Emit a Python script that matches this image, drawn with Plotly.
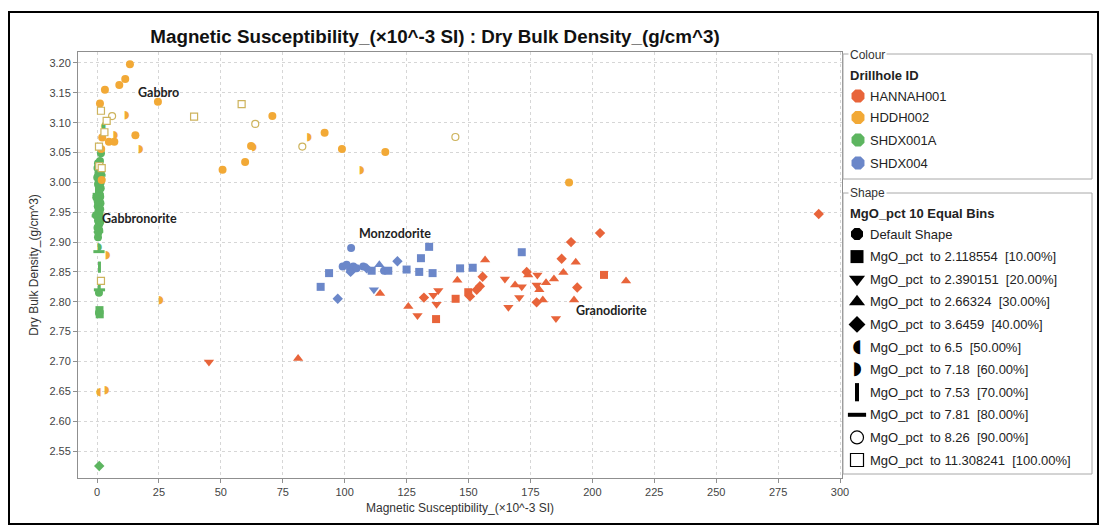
import plotly.graph_objects as go

# ---------------- data ----------------
holes = ["HANNAH001", "HDDH002", "SHDX001A", "SHDX004"]

bin_labels = [
    "Default Shape",
    "MgO_pct\u00a0 to 2.118554\u00a0 [10.00%]",
    "MgO_pct\u00a0 to 2.390151\u00a0 [20.00%]",
    "MgO_pct\u00a0 to 2.66324\u00a0 [30.00%]",
    "MgO_pct\u00a0 to 3.6459\u00a0 [40.00%]",
    "MgO_pct\u00a0 to 6.5\u00a0 [50.00%]",
    "MgO_pct\u00a0 to 7.18\u00a0 [60.00%]",
    "MgO_pct\u00a0 to 7.53\u00a0 [70.00%]",
    "MgO_pct\u00a0 to 7.81\u00a0 [80.00%]",
    "MgO_pct\u00a0 to 8.26\u00a0 [90.00%]",
    "MgO_pct\u00a0 to 11.308241\u00a0 [100.00%]",
]

hannah_x = [45.2, 81.2, 114.3, 125.7, 129.4, 132.0, 135.8, 137.8, 137.1, 136.9,
            144.8, 145.5, 149.9, 150.6, 153.3, 154.6, 155.7, 156.7, 164.7, 166.1,
            168.8, 170.5, 171.5, 173.5, 174.1, 177.8, 177.5, 178.6, 180.0, 177.5,
            181.3, 184.5, 185.3, 187.6, 188.3, 191.4, 193.3, 192.6, 193.9, 203.1,
            204.7, 213.6, 291.4]
hannah_y = [2.699, 2.705, 2.814, 2.792, 2.777, 2.807, 2.811, 2.819, 2.796, 2.771,
            2.805, 2.836, 2.816, 2.809, 2.820, 2.826, 2.842, 2.870, 2.838, 2.791,
            2.828, 2.807, 2.825, 2.850, 2.845, 2.845, 2.828, 2.820, 2.803, 2.799,
            2.832, 2.838, 2.772, 2.872, 2.849, 2.900, 2.866, 2.803, 2.824, 2.915,
            2.845, 2.835, 2.947]
hannah_bin = [2, 3, 3, 3, 2, 4, 2, 2, 2, 1,
              1, 3, 1, 4, 4, 4, 4, 3, 2, 2,
              3, 2, 2, 4, 3, 2, 2, 3, 3, 4,
              3, 3, 2, 4, 3, 4, 3, 3, 4, 4,
              1, 3, 4]

hddh_x = [13.3, 11.4, 9.0, 3.2, 1.2, 1.6, 24.6, 39.2, 58.4, 63.9,
          6.1, 12.0, 3.9, 3.0, 2.1, 4.8, 7.0, 7.4, 15.5, 17.6,
          0.8, 1.7, 0.9, 1.9, 1.9, 50.7, 59.8, 62.2, 63.5, 70.8,
          82.9, 85.7, 91.9, 98.9, 106.9, 116.4, 144.7, 190.6, 4.3, 1.6,
          25.8, 0.7, 3.9]
hddh_y = [3.198, 3.173, 3.163, 3.155, 3.132, 3.120, 3.135, 3.110, 3.131, 3.098,
          3.111, 3.113, 3.103, 3.084, 3.075, 3.068, 3.068, 3.079, 3.079, 3.056,
          3.060, 3.056, 3.027, 3.024, 3.004, 3.021, 3.034, 3.061, 3.059, 3.111,
          3.060, 3.076, 3.083, 3.056, 3.021, 3.051, 3.076, 3.000, 2.878, 2.835,
          2.803, 2.648, 2.651]
hddh_bin = [0, 0, 0, 0, 0, 10, 0, 10, 10, 9,
            9, 6, 10, 10, 0, 0, 0, 6, 0, 6,
            10, 0, 10, 10, 0, 0, 0, 0, 6, 0,
            9, 6, 0, 0, 6, 0, 9, 0, 6, 10,
            6, 5, 6]

shdx1_x = [0.4, 1.0, 0.2, 1.4, 0.6, 1.2, 0.1, 0.8, 1.5, 0.5,
           1.1, 0.0, 0.9, 0.5, 1.3, 0.2, 1.0, 0.7, 0.3, 1.2,
           0.6, 1.0, 0.1, 0.8, 0.4, 1.1, 0.7, 0.2, 0.9, 0.5,
           1.0, 0.4, 1.6, 1.5, 1.7, -0.3, -0.4, 1.4, 2.6, 1.6,
           1.2, 0.6, 1.0, 0.8, 1.0, 0.9, 1.0, 0.8, 1.0, 0.8,
           1.1, 0.9, 0.5, 1.3, 1.4, -0.2, 0.3]
shdx1_y = [3.032, 3.028, 3.024, 3.020, 3.016, 3.012, 3.008, 3.004, 3.000, 2.996,
           2.992, 2.988, 2.984, 2.980, 2.976, 2.972, 2.968, 2.964, 2.960, 2.956,
           2.952, 2.948, 2.944, 2.940, 2.936, 2.932, 2.928, 2.924, 2.920, 2.916,
           2.912, 2.908, 3.015, 2.990, 3.005, 2.975, 2.945, 2.965, 3.094, 3.049,
           3.036, 2.917, 2.892, 2.884, 2.858, 2.828, 2.820, 2.815, 2.786, 2.781,
           2.779, 2.525, 2.998, 2.955, 2.935, 2.990, 2.968]
shdx1_bin = [0, 0, 0, 7, 0, 8, 0, 0, 0, 0,
             0, 7, 0, 8, 0, 0, 0, 0, 0, 7,
             0, 0, 8, 0, 0, 0, 0, 0, 0, 0,
             7, 0, 0, 0, 0, 0, 0, 0, 5, 0,
             0, 4, 6, 8, 7, 7, 8, 0, 1, 0,
             1, 4, 0, 0, 0, 7, 0]

shdx4_x = [102.6, 134.1, 130.8, 93.7, 90.3, 97.2, 99.2, 100.8, 102.2, 102.4,
           103.5, 104.8, 107.5, 108.9, 110.9, 114.0, 115.9, 117.6, 121.3, 125.0,
           130.1, 135.5, 146.6, 151.7, 171.5, 111.8]
shdx4_y = [2.890, 2.892, 2.873, 2.848, 2.825, 2.805, 2.859, 2.862, 2.854, 2.850,
           2.859, 2.856, 2.859, 2.856, 2.852, 2.862, 2.852, 2.852, 2.868, 2.854,
           2.850, 2.848, 2.856, 2.857, 2.883, 2.820]
shdx4_bin = [0, 1, 1, 1, 1, 4, 0, 0, 0, 4,
             0, 0, 0, 4, 1, 3, 0, 1, 4, 1,
             1, 1, 1, 1, 1, 2]

rock_labels = ["Gabbro", "Gabbronorite", "Monzodorite", "Granodiorite"]
rock_x = [15.7, 1.2, 105.0, 192.6]
rock_y = [3.150, 2.940, 2.915, 2.785]

x_ticks = [0, 25, 50, 75, 100, 125, 150, 175, 200, 225, 250, 275, 300]
y_ticks = [2.55, 2.60, 2.65, 2.70, 2.75, 2.80, 2.85, 2.90, 2.95, 3.00, 3.05, 3.10, 3.15, 3.20]

# ---------------- styles ----------------
hole_colors = ["#E8643A", "#F2A936", "#5DB560", "#6B87C9"]
open_outline = ["#E8643A", "#CDB35C", "#5DB560", "#6B87C9"]
W, H = 1104, 525
L, R, T, B = 78, 842, 52, 478
x_range = [-7.67, 300.8]
y_range = [2.5048, 3.2184]

FONT = "Liberation Sans, Arial, sans-serif"
NARROW = "Liberation Sans Narrow, Arial Narrow, Liberation Sans, Arial, sans-serif"
GLYPH_FONT = "DejaVu Sans"

fig = go.Figure()


def add_points(xs, ys, color, ocolor, bin_id, xref="x", yref="y", size=8, legend=False):
    if not xs:
        return
    common = dict(x=xs, y=ys, xaxis=xref, yaxis=yref, showlegend=False, hoverinfo="skip",
                  cliponaxis=False)
    if bin_id in (5, 6):
        glyph = "\u25D6" if bin_id == 5 else "\u25D7"
        fig.add_trace(go.Scatter(mode="text", text=[glyph] * len(xs),
                                 textposition="middle center",
                                 textfont=dict(color=color, size=int(size * 1.45), family=GLYPH_FONT),
                                 **common))
        return
    sym = ["circle", "square", "triangle-down", "triangle-up", "diamond", None, None,
           "line-ns", "line-ew", "circle", "square"][bin_id]
    if legend and bin_id == 0:
        sym = "octagon"
    if bin_id in (7, 8):
        marker = dict(symbol=sym, size=size, color=color,
                      line=dict(width=3 if not legend else 4, color=color))
    elif bin_id in (9, 10):
        marker = dict(symbol=sym, size=size - (0 if legend else 1), color="white",
                      line=dict(width=1.2, color=ocolor))
    else:
        s = size
        if bin_id in (2, 3):
            s = size + 1
        marker = dict(symbol=sym, size=s, color=color, line=dict(width=0))
    fig.add_trace(go.Scatter(mode="markers", marker=marker, **common))


series = [
    (hannah_x, hannah_y, hannah_bin),
    (hddh_x, hddh_y, hddh_bin),
    (shdx1_x, shdx1_y, shdx1_bin),
    (shdx4_x, shdx4_y, shdx4_bin),
]

# draw order: green first (dense column), then others
for hi in [2, 1, 3, 0]:
    xs_all, ys_all, bins_all = series[hi]
    for b in range(11):
        xs = [x for x, bb in zip(xs_all, bins_all) if bb == b]
        ys = [y for y, bb in zip(ys_all, bins_all) if bb == b]
        add_points(xs, ys, hole_colors[hi], open_outline[hi], b)

# ---------------- legend (custom, pixel coords on x2/y2) ----------------
colour_rows = [96, 117.5, 140, 163]
shape_rows = [234, 256.6, 279.2, 301.8, 324.4, 347, 369.6, 392.2, 414.8, 437.4, 460]

for i, hname in enumerate(holes):
    fig.add_trace(go.Scatter(x=[858], y=[colour_rows[i]], xaxis="x2", yaxis="y2", mode="markers",
                             marker=dict(symbol="octagon", size=14, color=hole_colors[i], line=dict(width=0)),
                             showlegend=False, hoverinfo="skip"))
for b in range(11):
    add_points([857], [shape_rows[b]], "black", "black", b, xref="x2", yref="y2", size=13, legend=True)

annotations = []
for i, hname in enumerate(holes):
    annotations.append(dict(x=868, y=colour_rows[i], xref="x2", yref="y2", text=hname, showarrow=False,
                            xanchor="left", yanchor="middle", font=dict(family=FONT, size=13, color="#222")))
for b in range(11):
    annotations.append(dict(x=868, y=shape_rows[b], xref="x2", yref="y2", text=bin_labels[b], showarrow=False,
                            xanchor="left", yanchor="middle", font=dict(family=FONT, size=13, color="#222")))
annotations += [
    dict(x=848, y=55, xref="x2", yref="y2", text="Colour", showarrow=False, xanchor="left", yanchor="middle",
         bgcolor="white", borderpad=1, font=dict(family=FONT, size=12, color="#333")),
    dict(x=848, y=193, xref="x2", yref="y2", text="Shape", showarrow=False, xanchor="left", yanchor="middle",
         bgcolor="white", borderpad=1, font=dict(family=FONT, size=12, color="#333")),
    dict(x=848, y=75, xref="x2", yref="y2", text="<b>Drillhole ID</b>", showarrow=False, xanchor="left",
         yanchor="middle", font=dict(family=FONT, size=13, color="#222")),
    dict(x=848, y=213, xref="x2", yref="y2", text="<b>MgO_pct 10 Equal Bins</b>", showarrow=False,
         xanchor="left", yanchor="middle", font=dict(family=FONT, size=13, color="#222")),
]
for t, x, y in zip(rock_labels, rock_x, rock_y):
    annotations.append(dict(x=x, y=y, xref="x", yref="y", text="<b>" + t + "</b>", showarrow=False,
                            xanchor="left", yanchor="middle",
                            font=dict(family="Lato, Open Sans, sans-serif", size=12.5, color="#222")))

shapes = [
    dict(type="rect", xref="x2", yref="y2", x0=843, y0=54, x1=1092, y1=179,
         line=dict(color="#a8a8a8", width=1), layer="below"),
    dict(type="rect", xref="x2", yref="y2", x0=843, y0=193, x1=1092, y1=474,
         line=dict(color="#a8a8a8", width=1), layer="below"),
    dict(type="rect", xref="x2", yref="y2", x0=9, y0=12, x1=1098, y1=524,
         line=dict(color="black", width=2), layer="above"),
]

axis_common = dict(showgrid=True, gridcolor="#d6d6d6", griddash="dot", gridwidth=1,
                   showline=True, linecolor="#8f8f8f", linewidth=1, mirror=True,
                   ticks="outside", ticklen=4, tickcolor="#8f8f8f", zeroline=False,
                   automargin=False,
                   tickfont=dict(family=NARROW, size=11, color="#444"))

fig.update_layout(
    template="none",
    width=W, height=H,
    margin=dict(l=0, r=0, t=0, b=0, pad=0, autoexpand=False),
    paper_bgcolor="white", plot_bgcolor="rgba(0,0,0,0)",
    showlegend=False,
    title=dict(text="<b>Magnetic Susceptibility_(\u00d710^-3 SI) : Dry Bulk Density_(g/cm^3)</b>",
               x=435 / W, y=1 - 36 / H, xanchor="center", yanchor="middle",
               xref="container", yref="container",
               font=dict(family=FONT, size=18.8, color="#111")),
    xaxis=dict(domain=[L / W, R / W], range=x_range, anchor="y", tickvals=x_ticks,
               title=dict(text="Magnetic Susceptibility_(\u00d710^-3 SI)", standoff=6,
                          font=dict(family=NARROW, size=12, color="#333")),
               **axis_common),
    yaxis=dict(domain=[1 - B / H, 1 - T / H], range=y_range, anchor="x", tickvals=y_ticks,
               tickformat=".2f",
               title=dict(text="Dry Bulk Density_(g/cm^3)", standoff=8,
                          font=dict(family=NARROW, size=12, color="#333")),
               **axis_common),
    xaxis2=dict(domain=[0, 1], range=[0, W], anchor="y2", visible=False, fixedrange=True,
                automargin=False),
    yaxis2=dict(domain=[0, 1], range=[H, 0], anchor="x2", visible=False, fixedrange=True,
                automargin=False),
    annotations=annotations,
    shapes=shapes,
)

fig.write_html("out.html", config={"displayModeBar": False},
               post_script="document.body.style.margin='0';document.body.style.overflow='hidden';")
